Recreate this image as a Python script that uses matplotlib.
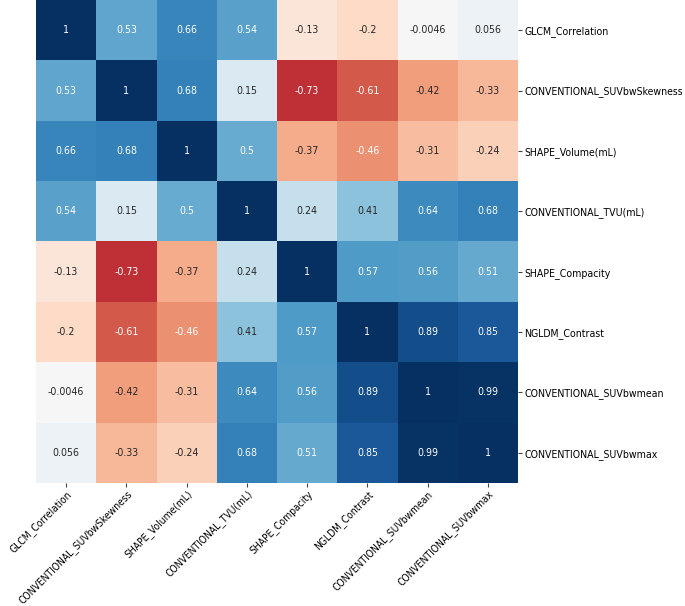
import matplotlib
matplotlib.use("Agg")
import matplotlib.pyplot as plt
import numpy as np
import seaborn as sns

labels = ["GLCM_Correlation", "CONVENTIONAL_SUVbwSkewness", "SHAPE_Volume(mL)",
          "CONVENTIONAL_TVU(mL)", "SHAPE_Compacity", "NGLDM_Contrast",
          "CONVENTIONAL_SUVbwmean", "CONVENTIONAL_SUVbwmax"]

row_glcm = [1, 0.53, 0.66, 0.54, -0.13, -0.2, -0.0046, 0.056]
row_skew = [0.53, 1, 0.68, 0.15, -0.73, -0.61, -0.42, -0.33]
row_vol = [0.66, 0.68, 1, 0.5, -0.37, -0.46, -0.31, -0.24]
row_tvu = [0.54, 0.15, 0.5, 1, 0.24, 0.41, 0.64, 0.68]
row_comp = [-0.13, -0.73, -0.37, 0.24, 1, 0.57, 0.56, 0.51]
row_contrast = [-0.2, -0.61, -0.46, 0.41, 0.57, 1, 0.89, 0.85]
row_mean = [-0.0046, -0.42, -0.31, 0.64, 0.56, 0.89, 1, 0.99]
row_max = [0.056, -0.33, -0.24, 0.68, 0.51, 0.85, 0.99, 1]

corr = np.array([row_glcm, row_skew, row_vol, row_tvu, row_comp, row_contrast, row_mean, row_max])

fig = plt.figure(figsize=(6.85, 6.06), dpi=100)
ax = fig.add_axes([0.0526, 0.203, 0.7036, 0.797])
annot = np.array([[f"{v:.2g}" for v in r] for r in corr])
sns.heatmap(corr, ax=ax, cmap="RdBu", vmin=-1, vmax=1, cbar=False,
            annot=annot, fmt="", annot_kws={"fontsize": 7.6, "fontstretch": "condensed"},
            xticklabels=labels, yticklabels=labels)
ax.yaxis.tick_right()
ax.tick_params(axis="y", length=3, pad=1.5, color="#444444")
ax.tick_params(axis="x", length=3, pad=1, color="#444444")
ax.set_yticklabels(labels, rotation=0, fontsize=7.6, fontstretch="condensed")
ax.set_xticklabels(labels, rotation=45, ha="right", rotation_mode="anchor", fontsize=7.4,
                   fontstretch="condensed")
fig.savefig("out.png", dpi=100)
